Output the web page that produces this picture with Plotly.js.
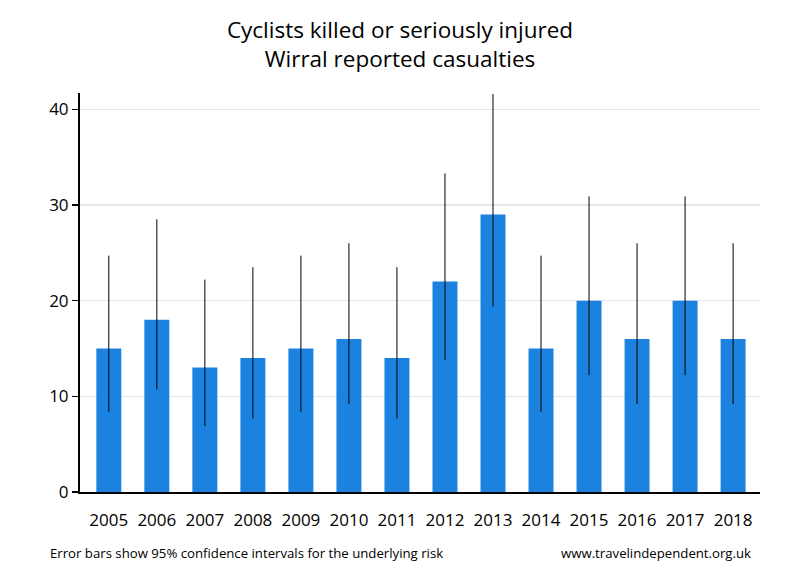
<!DOCTYPE html>
<html>
<head>
<meta charset="utf-8">
<script src="https://cdn.plot.ly/plotly-3.0.1.min.js"></script>
<style>html,body{margin:0;padding:0;background:#fff}#chart{width:800px;height:580px}</style>
</head>
<body>
<div id="chart"></div>
<script>
var years = ['2005','2006','2007','2008','2009','2010','2011','2012','2013','2014','2015','2016','2017','2018'];
var casualties = [15, 18, 13, 14, 15, 16, 14, 22, 29, 15, 20, 16, 20, 16];
var ciLower = [8.4, 10.7, 6.9, 7.7, 8.4, 9.2, 7.7, 13.8, 19.4, 8.4, 12.2, 9.2, 12.2, 9.2];
var ciUpper = [24.7, 28.5, 22.2, 23.5, 24.7, 26.0, 23.5, 33.3, 41.6, 24.7, 30.9, 26.0, 30.9, 26.0];
var yTicks = [0, 10, 20, 30, 40];

var plus = casualties.map(function(v, i){ return ciUpper[i] - v; });
var minus = casualties.map(function(v, i){ return v - ciLower[i]; });

var font = '"Open Sans", "Noto Sans", sans-serif';

var trace = {
  type: 'bar',
  x: years,
  y: casualties,
  marker: {color: '#1c82e0'},
  width: 0.52,
  error_y: {type: 'data', symmetric: false, array: plus, arrayminus: minus,
            color: '#000', thickness: 1, width: 0},
  hoverinfo: 'x+y'
};

var layout = {
  width: 800, height: 580,
  margin: {l: 80, r: 40, t: 93, b: 88},
  paper_bgcolor: '#fff', plot_bgcolor: '#fff',
  showlegend: false,
  title: {text: 'Cyclists killed or seriously injured<br>Wirral reported casualties',
          font: {family: font, size: 22.5, color: '#000'}, x: 0.5, xanchor: 'center', y: 0.935, yanchor: 'top'},
  xaxis: {type: 'category', range: [-0.6, 13.56], showgrid: false, showline: true,
          linecolor: '#000', linewidth: 2, ticks: '', zeroline: false, ticklabelstandoff: 12,
          tickfont: {family: font, size: 17, color: '#000'}, fixedrange: true},
  yaxis: {range: [0, 41.7], tickvals: yTicks, ticktext: yTicks.map(String),
          showgrid: true, gridcolor: '#e6e6e6', gridwidth: 1.5,
          showline: true, linecolor: '#000', linewidth: 2, zeroline: false,
          ticks: 'outside', ticklen: 6, tickwidth: 1.5, tickcolor: '#000',
          tickfont: {family: font, size: 17, color: '#000'}, fixedrange: true},
  annotations: [
    {text: 'Error bars show 95% confidence intervals for the underlying risk', xref: 'paper', yref: 'paper',
     x: -0.047, y: -0.153, xanchor: 'left', yanchor: 'middle', showarrow: false,
     font: {family: font, size: 13.2, color: '#000'}},
    {text: 'www.travelindependent.org.uk', xref: 'paper', yref: 'paper',
     x: 0.99, y: -0.153, xanchor: 'right', yanchor: 'middle', showarrow: false,
     font: {family: font, size: 13.2, color: '#000'}}
  ]
};

Plotly.newPlot('chart', [trace], layout, {displayModeBar: false, staticPlot: true});
</script>
</body>
</html>
